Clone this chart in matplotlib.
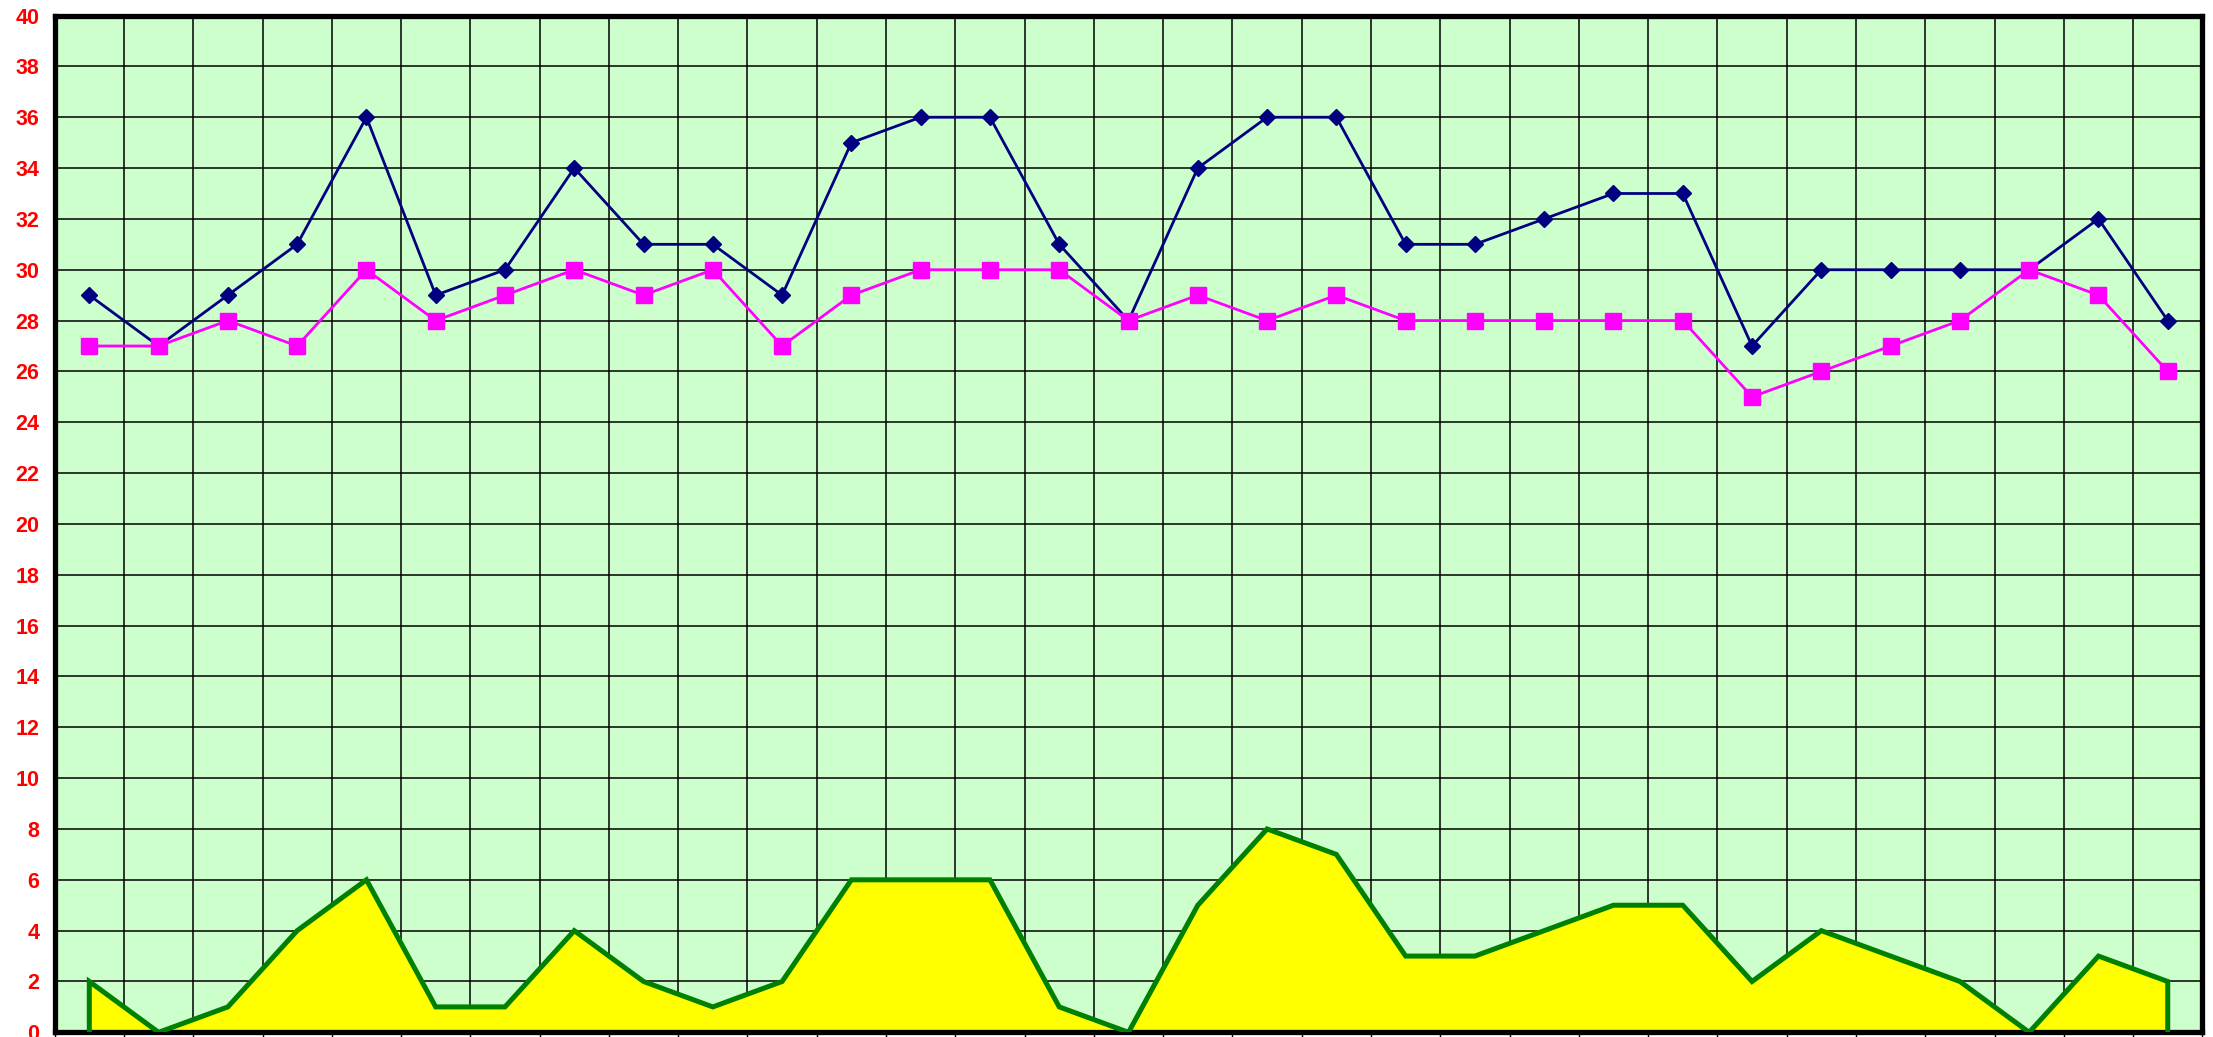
import numpy as np
import matplotlib.pyplot as plt

days = np.arange(31)
upper = [29, 27, 29, 31, 36, 29, 30, 34, 31, 31, 29, 35, 36, 36, 31, 28,
         34, 36, 36, 31, 31, 32, 33, 33, 27, 30, 30, 30, 30, 32, 28]
lower = [27, 27, 28, 27, 30, 28, 29, 30, 29, 30, 27, 29, 30, 30, 30, 28,
         29, 28, 29, 28, 28, 28, 28, 28, 25, 26, 27, 28, 30, 29, 26]
area = [2, 0, 1, 4, 6, 1, 1, 4, 2, 1, 2, 6, 6, 6, 1, 0,
        5, 8, 7, 3, 3, 4, 5, 5, 2, 4, 3, 2, 0, 3, 2]
yticks = list(range(0, 41, 2))

fig = plt.figure(figsize=(22.13, 10.37), dpi=100)
ax = fig.add_axes([0.0247, 0.0045, 0.9705, 0.9805])
ax.set_facecolor("#CCFFCC")

# area series, outlined including the vertical ends
xs = np.concatenate([[days[0]], days, [days[-1]]])
ys = np.concatenate([[0], area, [0]])
ax.fill(xs, ys, facecolor="#FFFF00", edgecolor="none", zorder=2)
ax.plot(xs, ys, color="#008000", lw=3.6, solid_joinstyle="miter", zorder=3)

ax.plot(days, upper, color="#000080", lw=2, marker="D", ms=8, zorder=4)
ax.plot(days, lower, color="#FF00FF", lw=2, marker="s", ms=11, zorder=5)

ax.set_xlim(-0.5, 30.5)
ax.set_ylim(0, 40)
ax.set_xticks(np.arange(-0.5, 31, 1))
ax.set_xticklabels([])
ax.set_yticks(yticks)
ax.set_yticklabels([str(t) for t in yticks], color="red", fontsize=15.5,
                   fontweight="bold", family="Liberation Sans")
ax.tick_params(axis="y", length=0, pad=11)
ax.tick_params(axis="x", length=5, width=1, direction="out")
ax.grid(True, color="black", lw=1.1, zorder=1)
ax.set_axisbelow(True)
for s in ax.spines.values():
    s.set_linewidth(3.8)
    s.set_color("black")

fig.savefig("out.png", dpi=100)
